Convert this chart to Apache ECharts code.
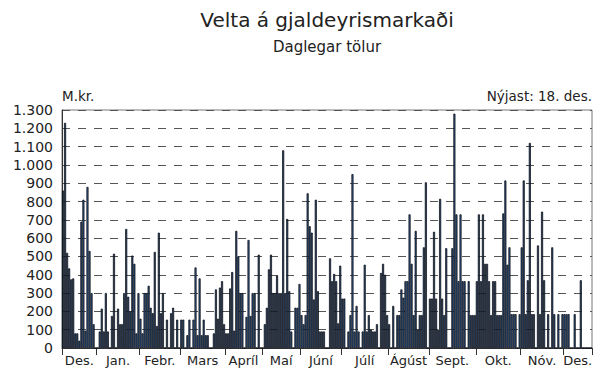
<!DOCTYPE html>
<html>
<head>
<meta charset="utf-8">
<script src="https://cdn.jsdelivr.net/npm/echarts@6/dist/echarts.min.js"></script>
<style>
  html, body { margin: 0; padding: 0; background: #fff; }
  #chart { width: 602px; height: 371px; }
</style>
</head>
<body>
<div id="chart"></div>
<script>
// Daily turnover (M.kr.) per trading day, one array per month
const monthNames = ['Des.', 'Jan.', 'Febr.', 'Mars', 'Apríl', 'Maí', 'Júní', 'Júlí', 'Ágúst', 'Sept.', 'Okt.', 'Nóv.', 'Des.'];
const desPrev = [860, 1230, 520, 435, 375, 380, 80, 80, 40, 690, 810, 95, 880, 530, 300, 130, 0];
const jan = [0, 90, 215, 90, 300, 90, 0, 175, 515, 0, 215, 130, 130, 300, 650, 280, 200, 505, 460, 80, 300];
const feb = [160, 80, 300, 300, 340, 220, 190, 525, 120, 630, 190, 300, 0, 155, 0, 190, 220, 0, 155, 0];
const mar = [155, 155, 0, 70, 155, 0, 155, 440, 70, 380, 70, 155, 70, 70, 0, 0, 80, 320, 160, 330, 365, 130];
const apr = [80, 80, 325, 415, 95, 640, 500, 300, 300, 0, 170, 590, 175, 300, 300, 0, 510, 0];
const mai = [0, 130, 220, 430, 510, 300, 300, 395, 300, 300, 1080, 300, 705, 310, 90, 0, 220, 220, 350];
const jun = [180, 130, 180, 845, 665, 630, 265, 810, 310, 90, 90, 90, 0, 0, 490, 365, 405, 365, 135, 450];
const jul = [270, 270, 0, 90, 180, 950, 90, 230, 90, 0, 90, 455, 90, 180, 100, 90, 90, 130, 0, 410, 460, 400, 180];
const agu = [130, 0, 230, 0, 180, 180, 320, 275, 365, 365, 730, 460, 180, 640, 100, 180, 180, 550, 905, 0];
const sep = [270, 270, 635, 270, 100, 815, 270, 180, 545, 0, 0, 545, 1280, 730, 365, 730, 365, 365, 0, 365, 180, 180, 180];
const okt = [365, 730, 365, 730, 460, 460, 365, 180, 365, 365, 180, 180, 180, 735, 915, 455, 550, 185, 185, 185, 0, 185];
const nov = [550, 915, 185, 370, 1120, 185, 185, 0, 560, 185, 745, 370, 0, 185, 0, 550, 185, 0, 185, 0, 185];
const desCur = [185, 185, 185, 0, 0, 185, 0, 0, 370, 0, 0, 0, 0, 0];

const yTicks = [0, 100, 200, 300, 400, 500, 600, 700, 800, 900, 1000, 1100, 1200, 1300];

const months = [desPrev, jan, feb, mar, apr, mai, jun, jul, agu, sep, okt, nov, desCur];

// Flatten into one day series, remembering month boundaries
const days = [];
const values = [];
const bounds = [0];
months.forEach((m, mi) => {
  m.forEach((v, di) => {
    days.push(monthNames[mi] + ' ' + (di + 1));
    values.push(v);
  });
  bounds.push(bounds[bounds.length - 1] + m.length);
});
const mids = monthNames.map((_, i) => (bounds[i] + bounds[i + 1]) / 2);
const total = values.length;

const fmtThousands = v => String(v).replace(/\B(?=(\d{3})+(?!\d))/g, '.');

const font = 'DejaVu Sans';
const gridLeft = 62, gridRight = 10;
const plotCenter = gridLeft + (602 - gridLeft - gridRight) / 2;

const chart = echarts.init(document.getElementById('chart'), null, { renderer: 'svg' });

chart.setOption({
  animation: false,
  backgroundColor: '#fff',
  textStyle: { fontFamily: font, color: '#222' },
  graphic: [
    { type: 'text', x: plotCenter, y: 10, style: { text: 'Velta á gjaldeyrismarkaði', font: '20px "DejaVu Sans"', fill: '#222', align: 'center' } },
    { type: 'text', x: plotCenter, y: 39, style: { text: 'Daglegar tölur', font: '15px "DejaVu Sans"', fill: '#222', align: 'center' } },
    { type: 'text', x: 62, y: 89, style: { text: 'M.kr.', font: '13.5px "DejaVu Sans"', fill: '#222' } },
    { type: 'text', x: 592, y: 89, style: { text: 'Nýjast: 18. des.', font: '13.5px "DejaVu Sans"', fill: '#222', align: 'right' } }
  ],
  grid: {
    left: gridLeft, right: gridRight, top: 110, bottom: 23,
    show: true, borderColor: '#777', borderWidth: 1, backgroundColor: 'rgba(0,0,0,0)'
  },
  xAxis: [
    {
      type: 'category',
      data: days,
      position: 'bottom',
      boundaryGap: true,
      axisLine: { show: false },
      axisTick: { show: false },
      axisLabel: { show: false },
      splitLine: { show: false }
    },
    {
      type: 'value',
      min: 0,
      max: total,
      position: 'bottom',
      axisLine: { show: true, lineStyle: { color: '#333', width: 1 } },
      axisTick: { show: true, customValues: bounds, length: 7, lineStyle: { color: '#333', width: 1 } },
      axisLabel: {
        show: true,
        customValues: mids,
        formatter: v => {
          const i = mids.findIndex(m => Math.abs(m - v) < 1e-6);
          return i >= 0 ? monthNames[i] : '';
        },
        fontFamily: font, fontSize: 13, color: '#222', margin: 6
      },
      splitLine: { show: false }
    }
  ],
  yAxis: {
    type: 'value',
    min: 0,
    max: yTicks[yTicks.length - 1],
    interval: 100,
    axisLine: { show: true, lineStyle: { color: '#333', width: 1 } },
    axisTick: { show: false },
    axisLabel: {
      formatter: v => fmtThousands(v),
      fontFamily: font, fontSize: 14, color: '#222', margin: 9
    },
    splitLine: { show: true, lineStyle: { color: '#555', type: [8, 8], width: 1 } }
  },
  series: [
    {
      type: 'bar',
      xAxisIndex: 0,
      data: values,
      barCategoryGap: '0%',
      itemStyle: {
        color: new echarts.graphic.LinearGradient(0, 0, 1, 0, [
          { offset: 0, color: '#141f30' },
          { offset: 0.5, color: '#30598c' },
          { offset: 1, color: '#141f30' }
        ]),
        borderColor: '#0a0f18',
        borderWidth: 0.7
      }
    }
  ]
});
</script>
</body>
</html>
